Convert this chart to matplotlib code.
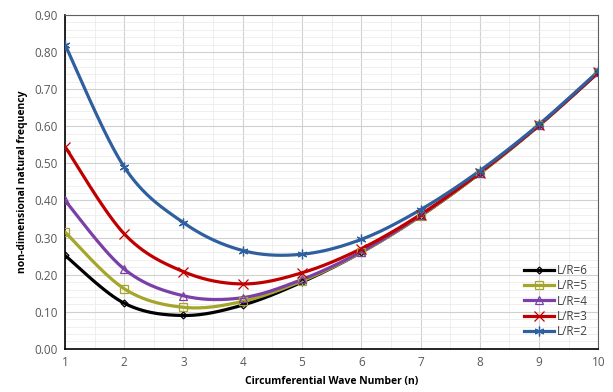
import numpy as np
import matplotlib.pyplot as plt
from matplotlib.ticker import MultipleLocator

n = [1, 2, 3, 4, 5, 6, 7, 8, 9, 10]
lr6 = [0.252, 0.123, 0.090, 0.118, 0.180, 0.260, 0.358, 0.473, 0.602, 0.745]
lr5 = [0.315, 0.162, 0.112, 0.128, 0.183, 0.260, 0.358, 0.473, 0.602, 0.745]
lr4 = [0.400, 0.215, 0.143, 0.138, 0.187, 0.262, 0.360, 0.475, 0.603, 0.745]
lr3 = [0.545, 0.310, 0.208, 0.175, 0.205, 0.270, 0.362, 0.475, 0.603, 0.745]
lr2 = [0.820, 0.490, 0.340, 0.265, 0.255, 0.295, 0.375, 0.480, 0.605, 0.748]

labels = ['L/R=6', 'L/R=5', 'L/R=4', 'L/R=3', 'L/R=2']
series = [lr6, lr5, lr4, lr3, lr2]
colors = ['#000000', '#A5A52A', '#7B3FA8', '#C00000', '#2F5F9E']
markers = ['D', 's', '^', 'x', (6, 2, 0)]
msizes = [3.5, 5.5, 5.5, 6.5, 7]


def smooth(x, y, steps=30):
    # Excel-like smoothed line: cubic bezier with Catmull-Rom style handles
    x = np.asarray(x, float)
    y = np.asarray(y, float)
    pts = np.column_stack([x, y])
    out = []
    for i in range(len(pts) - 1):
        p0 = pts[max(i - 1, 0)]
        p1 = pts[i]
        p2 = pts[i + 1]
        p3 = pts[min(i + 2, len(pts) - 1)]
        c1 = p1 + (p2 - p0) / 6
        c2 = p2 - (p3 - p1) / 6
        t = np.linspace(0, 1, steps)[:, None]
        seg = ((1 - t) ** 3 * p1 + 3 * (1 - t) ** 2 * t * c1
               + 3 * (1 - t) * t ** 2 * c2 + t ** 3 * p2)
        out.append(seg if i == 0 else seg[1:])
    out = np.vstack(out)
    return out[:, 0], out[:, 1]


plt.rcParams['font.family'] = ['Open Sans', 'DejaVu Sans']

fig = plt.figure(figsize=(6.13, 3.92), dpi=100)
ax = fig.add_axes([0.106, 0.110, 0.870, 0.852])

for y, lab, c, m, ms in zip(series, labels, colors, markers, msizes):
    xs, ys = smooth(n, y)
    ax.plot(xs, ys, color=c, lw=2.3, zorder=3)
    ax.plot(n, y, linestyle='none', marker=m, markersize=ms,
            markerfacecolor='none', markeredgecolor=c, markeredgewidth=0.9, zorder=4)
    ax.plot([], [], color=c, lw=2.3, marker=m, markersize=ms,
            markerfacecolor='none', markeredgecolor=c, markeredgewidth=0.9, label=lab)

ax.set_xlim(1, 10)
ax.set_ylim(0, 0.9)
ax.xaxis.set_major_locator(MultipleLocator(1))
ax.xaxis.set_minor_locator(MultipleLocator(0.5))
ax.yaxis.set_major_locator(MultipleLocator(0.1))
ax.yaxis.set_minor_locator(MultipleLocator(0.02))
ax.yaxis.set_major_formatter(plt.FuncFormatter(lambda v, p: f'{v:.2f}'))
ax.grid(which='major', color='#d0d0d0', lw=0.8)
ax.grid(which='minor', color='#ececec', lw=0.6)
ax.set_axisbelow(True)
ax.tick_params(which='both', length=0, labelsize=8.5, labelcolor='#595959', pad=5)

ax.spines['left'].set_color('black')
ax.spines['bottom'].set_color('black')
ax.spines['left'].set_linewidth(1.2)
ax.spines['bottom'].set_linewidth(1.2)
ax.spines['top'].set_color('#606060')
ax.spines['right'].set_color('#606060')

ax.set_xlabel('Circumferential Wave Number (n)', fontsize=7.5, fontweight='bold', labelpad=5)
ax.set_ylabel('non-dimensional natural frequency', fontsize=7.5, fontweight='bold', labelpad=5)

leg = ax.legend(loc='lower right', frameon=False, fontsize=8.5, handlelength=2.6,
                handletextpad=0.2, labelspacing=0.2, borderaxespad=0.5)
for t in leg.get_texts():
    t.set_color('#404040')

fig.savefig('out.png', dpi=100)
